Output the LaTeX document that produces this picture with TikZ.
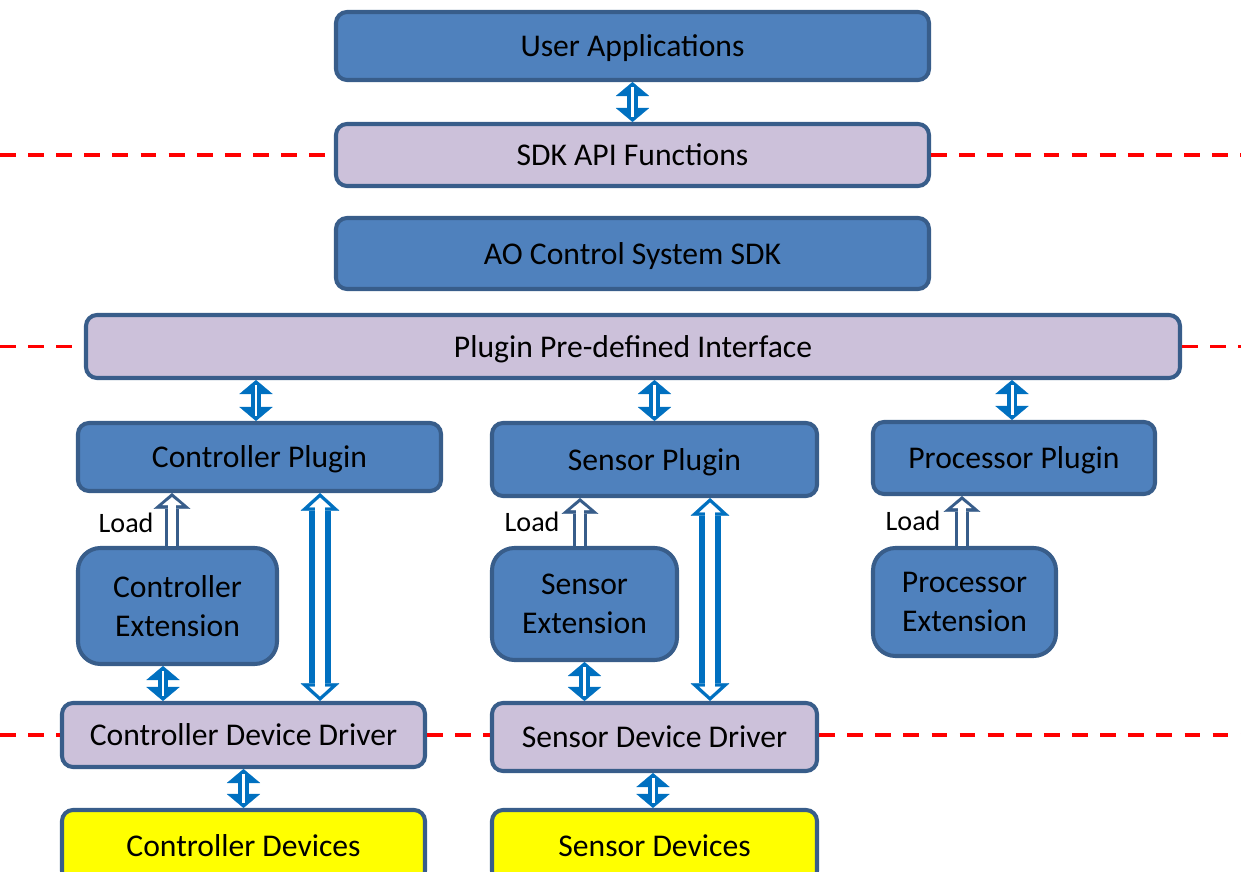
\documentclass[tikz,border=0pt]{standalone}
\usepackage{fontspec}
\setmainfont{Carlito}
\usetikzlibrary{arrows.meta}
\definecolor{boxblue}{HTML}{4F81BD}
\definecolor{boxline}{HTML}{385D8A}
\definecolor{lav}{HTML}{CCC1DA}
\definecolor{arrblue}{HTML}{0070C0}
\definecolor{devyellow}{HTML}{FFFF00}

\begin{document}
\begin{tikzpicture}[x=0.2mm,y=-0.2mm,
  box/.style={draw=boxline, line width=2.3pt, rounded corners=2.2mm, fill=boxblue,
    font=\fontsize{18}{22}\selectfont, inner sep=0pt, align=center, text depth=0pt},
  ifbox/.style={box, fill=lav},
  devbox/.style={box, fill=devyellow},
  extbox/.style={box, rounded corners=4.5mm},
  sepline/.style={red, line width=2.2pt, dash pattern=on 9pt off 7pt},
  bidir/.style={draw=arrblue, line width=5.7pt,
    {Triangle[width=19pt,length=8pt,line width=0.1pt]}-{Triangle[width=19pt,length=8pt,line width=0.1pt]},
    postaction={draw=white, line width=1.7pt, arrows=-, shorten <=3pt, shorten >=3pt}},
  bidirlong/.style={draw=arrblue, line width=12pt,
    {Triangle[width=22pt,length=10pt,line width=0.1pt]}-{Triangle[width=22pt,length=10pt,line width=0.1pt]},
    postaction={draw=white, line width=5.6pt,
      {Triangle[width=12pt,length=5.5pt,line width=0.1pt]}-{Triangle[width=12pt,length=5.5pt,line width=0.1pt]},
      shorten <=2.6pt, shorten >=2.6pt}},
  loadarr/.style={draw=boxline, line width=8.5pt,
    -{Triangle[width=21pt,length=9pt,line width=0.1pt]},
    postaction={draw=white, line width=4.2pt,
      -{Triangle[width=11pt,length=4.5pt,line width=0.1pt]}, shorten >=2.4pt}},
  loadlbl/.style={font=\fontsize{16}{18}\selectfont, inner sep=0pt, anchor=east}
]
\useasboundingbox (0,0) rectangle (1241,872);
\clip (0,0) rectangle (1241,872);
% 节点定义
\node[box, minimum width=118.6mm, minimum height=13.6mm] (app) at (632.5,46) {User Applications};
\node[ifbox, minimum width=118.6mm, minimum height=12.4mm] (api) at (632.5,155) {SDK API Functions};
\node[box, minimum width=118.6mm, minimum height=14.2mm] (sdk) at (632.5,253.5) {AO Control System SDK};
\node[ifbox, minimum width=218.8mm, minimum height=12.6mm] (iface) at (633,346.5) {Plugin Pre-defined Interface};
\node[box, minimum width=72.6mm, minimum height=13.6mm] (cplug) at (259.5,457) {Controller Plugin};
\node[box, minimum width=65mm, minimum height=14.6mm] (splug) at (654.5,459.5) {Sensor Plugin};
\node[box, minimum width=56.4mm, minimum height=14.4mm] (pplug) at (1014,458) {Processor Plugin};
\node[extbox, minimum width=39.8mm, minimum height=23.2mm] (cext) at (177.5,606) {Controller\\Extension};
\node[extbox, minimum width=37mm, minimum height=22.4mm] (sext) at (584.5,604) {Sensor\\Extension};
\node[extbox, minimum width=36.6mm, minimum height=21.6mm] (pext) at (964.5,602) {Processor\\Extension};
\node[ifbox, minimum width=72.6mm, minimum height=12.8mm] (cdrv) at (243.5,735) {Controller Device Driver};
\node[ifbox, minimum width=65mm, minimum height=13.6mm] (sdrv) at (654.5,737) {Sensor Device Driver};
\node[devbox, minimum width=72.6mm, minimum height=14.4mm] (cdev) at (243.5,846) {Controller Devices};
\node[devbox, minimum width=65mm, minimum height=14.4mm] (sdev) at (654.5,846) {Sensor Devices};
% 分隔线
\coordinate (l1) at (0,155);
\coordinate (r1) at (1241,155);
\coordinate (l2) at (0,346.5);
\coordinate (r2) at (1241,346.5);
\coordinate (l3) at (0,735);
\coordinate (r3) at (1241,735);
\draw[sepline] (l1) -- (api.west);
\draw[sepline] (api.east) -- (r1);
\draw[sepline] (l2) -- (iface.west);
\draw[sepline] (iface.east) -- (r2);
\draw[sepline] (l3) -- (cdrv.west);
\draw[sepline] (cdrv.east) -- (sdrv.west |- cdrv.east);
\draw[sepline] (sdrv.east |- r3) -- (r3);
% 连线
\draw[bidir] (app.south) -- (api.north);
\draw[bidir] ([xshift=-0.7mm]cplug.north |- iface.south) -- ([xshift=-0.7mm]cplug.north);
\draw[bidir] (splug.north |- iface.south) -- (splug.north);
\draw[bidir] ([xshift=-0.4mm]pplug.north |- iface.south) -- ([xshift=-0.4mm]pplug.north);
\draw[bidir] ([xshift=-2.9mm]cext.south) -- ([xshift=-2.9mm]cext.south |- cdrv.north);
\draw[bidirlong] ([xshift=12.1mm]cplug.south) -- ([xshift=12.1mm]cplug.south |- cdrv.north);
\draw[bidir] (sext.south) -- (sext.south |- sdrv.north);
\draw[bidirlong] ([xshift=11.1mm]splug.south) -- ([xshift=11.1mm]splug.south |- sdrv.north);
\draw[bidir] (cdrv.south) -- (cdev.north);
\draw[bidir] ([xshift=-0.3mm]sdrv.south) -- ([xshift=-0.3mm]sdev.north);
% Load
\draw[loadarr] ([xshift=-1.1mm]cext.north) -- ([xshift=-1.1mm]cext.north |- cplug.south)
  node[loadlbl, midway, xshift=-2.2mm, yshift=-0.6mm] {Load};
\draw[loadarr] ([xshift=-0.9mm]sext.north) -- ([xshift=-0.9mm]sext.north |- splug.south)
  node[loadlbl, midway, xshift=-2.6mm, yshift=0mm] {Load};
\draw[loadarr] ([xshift=-0.5mm]pext.north) -- ([xshift=-0.5mm]pext.north |- pplug.south)
  node[loadlbl, midway, xshift=-2.8mm, yshift=0mm] {Load};
\end{tikzpicture}
\end{document}
